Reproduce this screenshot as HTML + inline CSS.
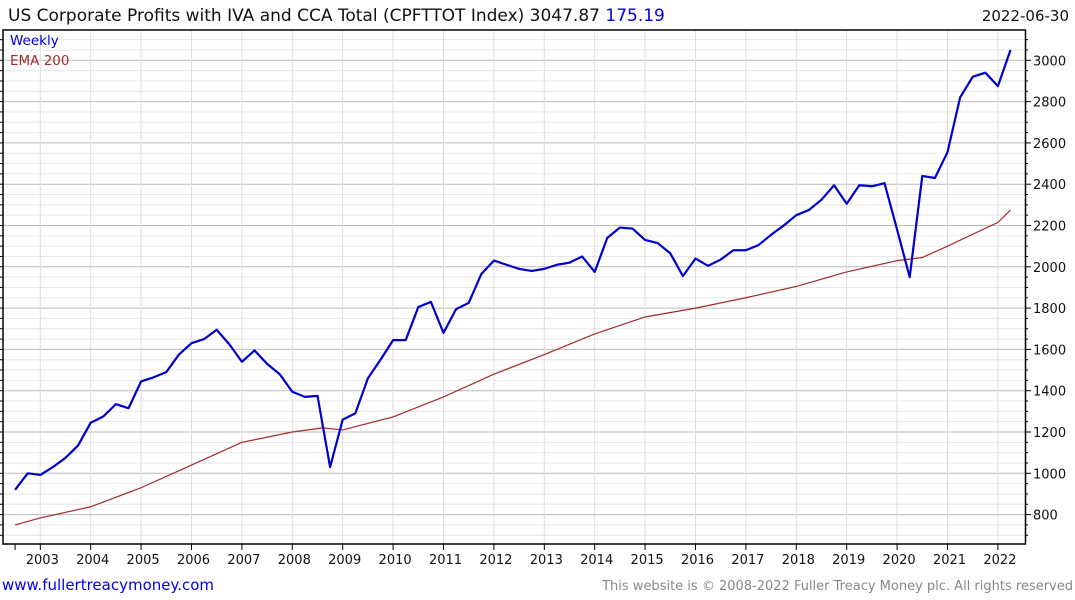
<!DOCTYPE html>
<html><head><meta charset="utf-8"><style>
html,body{margin:0;padding:0;background:#fff;width:1075px;height:600px;overflow:hidden}
svg{display:block;font-family:"DejaVu Sans","Liberation Sans",sans-serif}
</style></head><body>
<svg id="chart" width="1075" height="600">
<text x="8" y="21" font-size="17" fill="#111">US Corporate Profits with IVA and CCA Total (CPFTTOT Index) 3047.87 <tspan fill="#0000ee">175.19</tspan></text>
<text x="1069" y="21" font-size="15" fill="#111" text-anchor="end">2022-06-30</text>
<g id="grid"></g>
<g id="marks"></g>
<rect x="3" y="30" width="1022.5" height="514" fill="none" stroke="#000" stroke-width="1.5"/>
<g id="axes"></g>
<text x="10" y="45" font-size="13.5" fill="#0000dd">Weekly</text>
<text x="10" y="65" font-size="13.5" fill="#a52a2a">EMA 200</text>
<text x="2" y="590" font-size="15" fill="#0000ee">www.fullertreacymoney.com</text>
<text x="1073" y="590" font-size="13" fill="#888" text-anchor="end">This website is © 2008-2022 Fuller Treacy Money plc. All rights reserved</text>
</svg>
<script>
const years=[2003,2004,2005,2006,2007,2008,2009,2010,2011,2012,2013,2014,2015,2016,2017,2018,2019,2020,2021,2022];
const yTicks=[800,1000,1200,1400,1600,1800,2000,2200,2400,2600,2800,3000];
const startYear=2002.5;
const profits=[920,1000,992,1030,1075,1135,1245,1275,1335,1315,1445,1465,1490,1575,1630,1650,1695,1625,1540,1595,1530,1480,1395,1370,1375,1030,1260,1290,1460,1550,1645,1645,1805,1830,1680,1795,1825,1965,2030,2010,1990,1980,1990,2010,2020,2050,1975,2140,2190,2185,2130,2115,2065,1955,2040,2005,2035,2080,2080,2105,2155,2200,2250,2275,2325,2395,2305,2395,2390,2405,2180,1950,2440,2430,2555,2820,2920,2940,2875,3050];
const emaTimes=[2002.5,2003,2004,2005,2006,2007,2008,2008.6,2009,2010,2011,2012,2013,2014,2015,2016,2017,2018,2019,2020,2020.5,2021,2022,2022.25];
const emaValues=[750,784,838,930,1040,1150,1200,1220,1210,1273,1370,1480,1575,1675,1757,1800,1850,1905,1975,2030,2045,2100,2215,2275];
const NS='http://www.w3.org/2000/svg';
const X=t=>40.3+(t-2003)*50.4;
const Y=v=>473.3-(v-1000)*0.2065;
function mk(tag,attrs,parent){const e=document.createElementNS(NS,tag);for(const k in attrs)e.setAttribute(k,attrs[k]);parent.appendChild(e);return e;}
const grid=document.getElementById('grid'),axes=document.getElementById('axes'),marks=document.getElementById('marks');
for(let v=650;v<=3150;v+=50){const y=Y(v);if(y<31||y>543)continue;const major=v%200===0;
 const l=mk('line',{x1:3,x2:1025,y1:y,y2:y,stroke:major?'#bbb':'#e6e6e6','stroke-width':1},grid);
 
 
 const tk=mk('line',{x1:1025,x2:major?1031:1028,y1:y,y2:y,stroke:'#000'},axes);
 
 
 const tl=mk('line',{x1:0,x2:3,y1:y,y2:y,stroke:'#000'},axes);
 
 }
yTicks.forEach(v=>{const t=mk('text',{x:1033,y:Y(v)+5,'font-size':13,fill:'#111'},axes);t.textContent=v;
 
 });
years.forEach(yr=>{const x=X(yr);
 const g=mk('line',{x1:x,x2:x,y1:31,y2:544,stroke:'#ddd'},grid);
 
 
 const tk=mk('line',{x1:x,x2:x,y1:544,y2:550,stroke:'#000'},axes);
 
 
 const t=mk('text',{x:x+2,y:564,'font-size':13,fill:'#111','text-anchor':'middle'},axes);t.textContent=yr;
 
 });
const t0=mk('line',{x1:X(2002.5),x2:X(2002.5),y1:544,y2:550,stroke:'#000'},axes);


const ema=mk('polyline',{points:emaTimes.map((t,i)=>X(t)+','+Y(emaValues[i])).join(' '),fill:'none',stroke:'#a52a2a','stroke-width':1.2},marks);


const pl=mk('polyline',{points:profits.map((v,i)=>X(startYear+i*0.25)+','+Y(v)).join(' '),fill:'none',stroke:'#0000cc','stroke-width':2.2,'stroke-linejoin':'round'},marks);


</script>
</body></html>
